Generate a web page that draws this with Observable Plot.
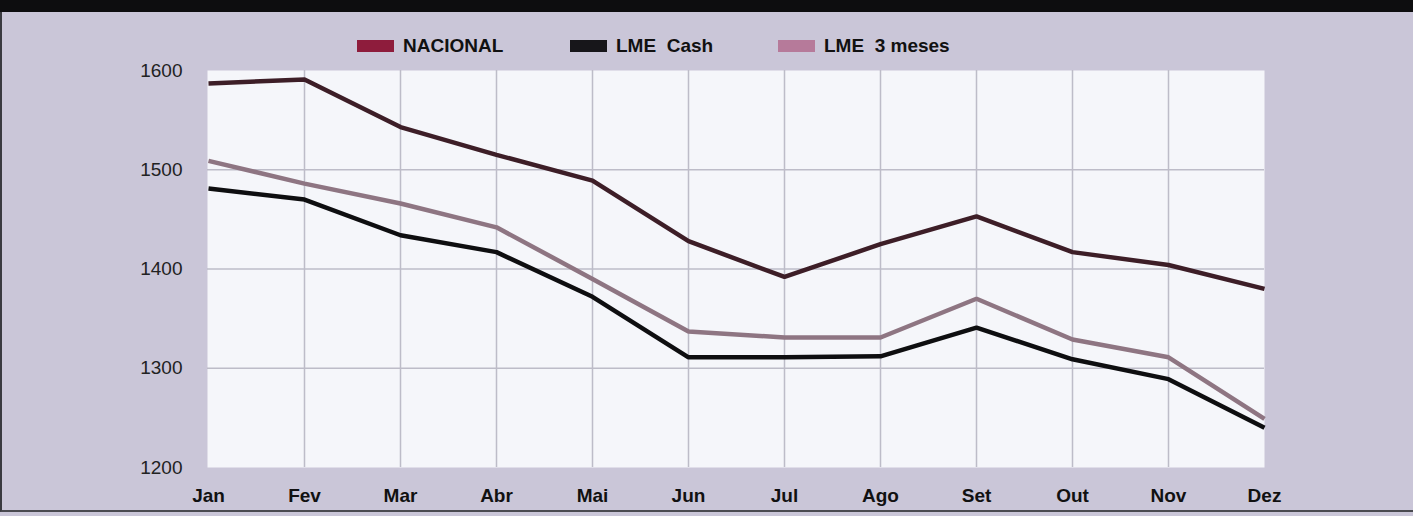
<!DOCTYPE html>
<html>
<head>
<meta charset="utf-8">
<script src="https://cdn.jsdelivr.net/npm/d3@7"></script>
<script src="https://cdn.jsdelivr.net/npm/@observablehq/plot@0.6"></script>
<style>
  html, body { margin: 0; padding: 0; }
  body { width: 1413px; height: 516px; background: #cac6d8; font-family: "Liberation Sans", Arial, sans-serif; position: relative; overflow: hidden; }
  #topbar { position: absolute; left: 0; top: 0; width: 1413px; height: 12px; background: #0d0d0f; }
  #frame { position: absolute; left: 0; top: 12px; width: 1411px; height: 498px; border-left: 2px solid #3a3a40; border-bottom: 2px solid #4a4a50; pointer-events: none; }
  #header { position: relative; height: 60px; }
  .leg { position: absolute; top: 35px; display: flex; align-items: center; font-weight: bold; font-size: 19px; color: #111; white-space: pre; }
  .sw { width: 37px; height: 12px; margin-right: 9px; }
  svg { display: block; }
</style>
</head>
<body>
<div id="topbar"></div>
<div id="header">
  <div class="leg" style="left:357px"><div class="sw" style="background:#8e1c3c"></div>NACIONAL</div>
  <div class="leg" style="left:570px"><div class="sw" style="background:#17161a"></div>LME  Cash</div>
  <div class="leg" style="left:778px"><div class="sw" style="background:#b67a9a"></div>LME  3 meses</div>
</div>
<div id="chart"></div>
<div id="frame"></div>
<script>
const months = ["Jan","Fev","Mar","Abr","Mai","Jun","Jul","Ago","Set","Out","Nov","Dez"];
const nacional = [1587, 1591, 1543, 1515, 1489, 1428, 1392, 1425, 1453, 1417, 1404, 1380];
const lmeCash = [1481, 1470, 1434, 1417, 1372, 1311, 1311, 1312, 1341, 1309, 1289, 1240];
const lme3meses = [1509, 1486, 1466, 1442, 1390, 1337, 1331, 1331, 1370, 1329, 1311, 1249];
const yTicks = [1200, 1300, 1400, 1500, 1600];

const seriesNames = ["NACIONAL", "LME Cash", "LME 3 meses"];
const seriesValues = [nacional, lmeCash, lme3meses];
const seriesColors = ["#3d1e27", "#0e0e10", "#8e7582"];

const rows = [];
seriesNames.forEach((s, i) => months.forEach((m, j) => rows.push({series: s, month: m, value: seriesValues[i][j]})));

const chart = Plot.plot({
  width: 1413,
  height: 456,
  marginTop: 10,
  marginBottom: 49,
  marginLeft: 207,
  marginRight: 149,
  style: { background: "transparent", fontFamily: "Liberation Sans, Arial, sans-serif" },
  x: { type: "point", domain: months, padding: 0, label: null },
  y: { domain: [1200, 1600], ticks: yTicks, label: null },
  color: { domain: seriesNames, range: seriesColors },
  marks: [
    Plot.frame({ fill: "#f5f6fa", stroke: null }),
    Plot.gridX(months.slice(1, -1), { stroke: "#bdbcc8", strokeOpacity: 1, strokeWidth: 1.5 }),
    Plot.gridY([1300, 1400, 1500], { stroke: "#bdbcc8", strokeOpacity: 1, strokeWidth: 1.5 }),
    Plot.axisY(yTicks, { tickSize: 0, tickPadding: 25, fontSize: 19, fill: "#222", label: null, tickFormat: d => String(d) }),
    Plot.axisX(months, { tickSize: 0, tickPadding: 21, fontSize: 19, fontWeight: "bold", fill: "#111", label: null }),
    Plot.line(rows, { x: "month", y: "value", z: "series", stroke: "series", strokeWidth: 4.5, strokeLinejoin: "miter", strokeLinecap: "butt" })
  ]
});
document.getElementById("chart").appendChild(chart);
</script>
</body>
</html>
